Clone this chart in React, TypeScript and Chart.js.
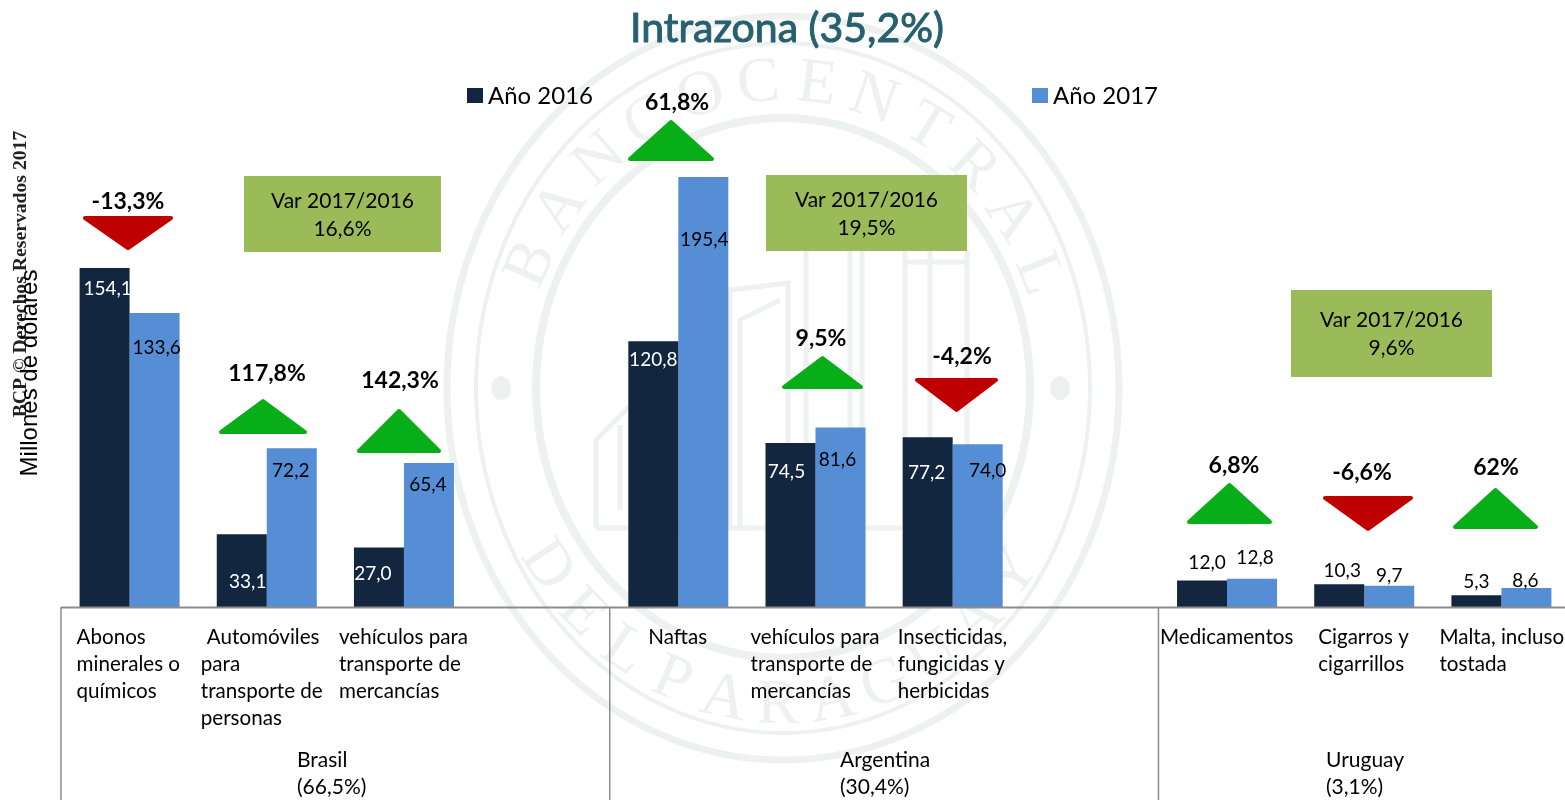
import React, { useEffect, useRef } from "react";
import { Chart, registerables } from "chart.js";

Chart.register(...registerables);

const categories = ["Abonos minerales o químicos", "Automóviles para transporte de personas", "vehículos para transporte de mercancías", "", "Naftas", "vehículos para transporte de mercancías", "Insecticidas, fungicidas y herbicidas", "", "Medicamentos", "Cigarros y cigarrillos", "Malta, incluso tostada"];
const categoryLines = [["Abonos", "minerales o", "químicos"], [" Automóviles", "para", "transporte de", "personas"], ["vehículos para", "transporte de", "mercancías"], [], ["Naftas"], ["vehículos para", "transporte de", "mercancías"], ["Insecticidas,", "fungicidas y", "herbicidas"], [], ["Medicamentos"], ["Cigarros y", "cigarrillos"], ["Malta, incluso", "tostada"]];
const values2016 = [154.1, 33.1, 27.0, null, 120.8, 74.5, 77.2, null, 12.0, 10.3, 5.3];
const values2017 = [133.6, 72.2, 65.4, null, 195.4, 81.6, 74.0, null, 12.8, 9.7, 8.6];
const variation = ["-13,3%", "117,8%", "142,3%", "", "61,8%", "9,5%", "-4,2%", "", "6,8%", "-6,6%", "62%"];
const groupLabels = [["Brasil", "(66,5%)"], ["Argentina", "(30,4%)"], ["Uruguay", "(3,1%)"]];
const groupVariation = ["16,6%", "19,5%", "9,6%"];

const FONT = "Lato, 'Noto Sans', sans-serif";
const NAVY = "#12263f";
const BLUE = "#558ed5";
const MARK = "#edf1f0";

// presentation tables, by category index
const labelOffset2016 = [[3, 21], [6, 48], [-6, 26], null, [0, 19], [-4, 29], [-1, 36], null, [5, -18], [3, -13], [0, -13]];
const labelOffset2017 = [[2, 35], [-1, 23], [-1, 22], null, [1, 63], [-3, 32], [10, 27], null, [3, -21], [0, -10], [-1, -7]];
const labelInside2016 = [true, true, true, false, true, true, true, false, false, false, false];
const arrows = [
  { l: 83, r: 173, top: 216, bot: 250, up: false, tx: 128, ty: 202 }, { l: 219, r: 307, top: 399, bot: 434, up: true, tx: 267, ty: 374 },
  { l: 357, r: 441, top: 409, bot: 453, up: true, tx: 400, ty: 381 }, null,
  { l: 628, r: 714, top: 120, bot: 161, up: true, tx: 677, ty: 103 }, { l: 782, r: 863, top: 356, bot: 389, up: true, tx: 821, ty: 339 },
  { l: 915, r: 998, top: 378, bot: 412, up: false, tx: 962, ty: 357 }, null,
  { l: 1187, r: 1272, top: 483, bot: 524, up: true, tx: 1234, ty: 466 }, { l: 1323, r: 1413, top: 496, bot: 531, up: false, tx: 1362, ty: 473 },
  { l: 1453, r: 1538, top: 488, bot: 529, up: true, tx: 1496, ty: 468 },
];
const labelLeft = [-53, -66, -65, 0, -30, -65, -55, 0, -67, -46, -62];
const boxes = [[244, 176, 197, 76], [766, 175, 201, 76], [1291, 290, 201, 87]];
const groupLeft = [297, 840, 1326];

function ringText(ctx: CanvasRenderingContext2D, txt: string, cx: number, cy: number, rx: number, ry: number, a0: number, a1: number, flip: boolean) {
  const n = txt.length;
  for (let i = 0; i < n; i++) {
    const a = a0 + ((a1 - a0) * i) / (n - 1);
    const x = cx + rx * Math.cos(a);
    const y = cy + ry * Math.sin(a);
    ctx.save();
    ctx.translate(x, y);
    ctx.rotate(flip ? a - Math.PI / 2 : a + Math.PI / 2);
    ctx.fillText(txt[i], 0, 0);
    ctx.restore();
  }
}

function line(ctx: CanvasRenderingContext2D, pts: number[][]) {
  ctx.beginPath();
  pts.forEach((p, i) => (i ? ctx.lineTo(p[0], p[1]) : ctx.moveTo(p[0], p[1])));
  ctx.stroke();
}

const watermark = {
  id: "watermark",
  beforeDatasetsDraw(chart: any) {
    const ctx: CanvasRenderingContext2D = chart.ctx;
    const cx = 783, cy = 388;
    ctx.save();
    ctx.strokeStyle = MARK;
    ctx.fillStyle = MARK;
    [[336, 372, 7], [307, 345, 4], [247, 270, 8]].forEach(([rx, ry, w]) => {
      ctx.lineWidth = w;
      ctx.beginPath();
      ctx.ellipse(cx, cy, rx, ry, 0, 0, Math.PI * 2);
      ctx.stroke();
    });
    [501, 1060].forEach((x) => {
      ctx.beginPath();
      ctx.ellipse(x, cy, 10, 12, 0, 0, Math.PI * 2);
      ctx.fill();
    });
    ctx.textAlign = "center";
    ctx.textBaseline = "alphabetic";
    ctx.font = "64px 'Liberation Serif', serif";
    ringText(ctx, "BANCOCENTRAL", cx, cy, 258, 288, Math.PI * 1.133, Math.PI * 1.878, false);
    ringText(ctx, "DELPARAGUAY", cx, cy, 302, 335, Math.PI * 0.811, Math.PI * 0.2, true);
    ctx.lineWidth = 5;
    line(ctx, [[596, 528], [596, 440], [636, 400], [636, 528]]);
    line(ctx, [[620, 510], [620, 425]]);
    line(ctx, [[596, 528], [985, 528]]);
    line(ctx, [[730, 528], [730, 290], [788, 283], [788, 528]]);
    line(ctx, [[740, 528], [740, 320], [780, 300]]);
    [806, 850, 862, 905, 930, 967].forEach((x) => line(ctx, [[x, 250], [x, 528]]));
    line(ctx, [[905, 262], [967, 262]]);
    ctx.restore();
  },
};

function triangle(ctx: CanvasRenderingContext2D, a: any, color: string) {
  const mid = (a.l + a.r) / 2;
  const tipY = a.up ? a.top : a.bot;
  const baseY = a.up ? a.bot : a.top;
  const inset = 2;
  ctx.fillStyle = color;
  ctx.strokeStyle = color;
  ctx.lineWidth = inset * 2;
  ctx.lineJoin = "round";
  const dir = a.up ? 1 : -1;
  ctx.beginPath();
  ctx.moveTo(mid, tipY + dir * inset);
  ctx.lineTo(a.r - inset, baseY - dir * inset);
  ctx.lineTo(a.l + inset, baseY - dir * inset);
  ctx.closePath();
  ctx.fill();
  ctx.stroke();
}

const overlay = {
  id: "overlay",
  afterDatasetsDraw(chart: any) {
    const ctx: CanvasRenderingContext2D = chart.ctx;
    const xs = chart.scales.x;
    const ys = chart.scales.y;
    const step = xs.getPixelForValue(1) - xs.getPixelForValue(0);
    const base = ys.getPixelForValue(0);
    const halfBar = (step * 0.729) / 4;
    ctx.save();

    // axis and group separators
    ctx.strokeStyle = "#8c8c8c";
    ctx.lineWidth = 2;
    line(ctx, [[xs.left, base + 0.5], [xs.right, base + 0.5]]);
    ctx.lineWidth = 1.5;
    [0, 4, 8].forEach((i) => {
      const x = xs.getPixelForValue(i) - step / 2;
      line(ctx, [[x, base], [x, 800]]);
    });

    // value labels
    ctx.font = `19px ${FONT}`;
    ctx.textAlign = "center";
    ctx.textBaseline = "middle";
    categories.forEach((_, i) => {
      const center = xs.getPixelForValue(i);
      const v16 = values2016[i], v17 = values2017[i];
      if (v16 !== null) {
        const o = labelOffset2016[i]!;
        ctx.fillStyle = labelInside2016[i] ? "#ffffff" : "#000000";
        ctx.fillText(v16.toFixed(1).replace(".", ","), center - halfBar + o[0], ys.getPixelForValue(v16) + o[1]);
      }
      if (v17 !== null) {
        const o = labelOffset2017[i]!;
        ctx.fillStyle = "#000000";
        ctx.fillText(v17.toFixed(1).replace(".", ","), center + halfBar + o[0], ys.getPixelForValue(v17) + o[1]);
      }
    });

    // arrows and variation
    arrows.forEach((a, i) => {
      if (!a) return;
      triangle(ctx, a, a.up ? "#08ae17" : "#bf0000");
      ctx.font = `bold 23px ${FONT}`;
      ctx.fillStyle = "#000000";
      ctx.textAlign = "center";
      ctx.fillText(variation[i], a.tx, a.ty);
    });

    // group boxes
    boxes.forEach((b, i) => {
      ctx.fillStyle = "#9bbb59";
      ctx.fillRect(b[0], b[1], b[2], b[3]);
      ctx.fillStyle = "#000000";
      ctx.font = `21px ${FONT}`;
      ctx.textAlign = "center";
      const mx = b[0] + b[2] / 2, my = b[1] + b[3] / 2;
      ctx.fillText("Var 2017/2016", mx, my - 13);
      ctx.fillText(groupVariation[i], mx, my + 15);
    });

    // category labels
    ctx.fillStyle = "#000000";
    ctx.font = `20.6px ${FONT}`;
    ctx.textAlign = "left";
    categoryLines.forEach((lines, i) => {
      const x = xs.getPixelForValue(i) + labelLeft[i];
      lines.forEach((t, j) => {
        const offset = t.startsWith(" ") ? 6 : 0;
        ctx.fillText(t.trim(), x + offset, 637 + j * 27);
      });
    });
    ctx.font = `21px ${FONT}`;
    groupLabels.forEach((g, i) => {
      g.forEach((t, j) => ctx.fillText(t, groupLeft[i], 760 + j * 27));
    });

    // legend
    ctx.font = `24px ${FONT}`;
    chart.data.datasets.forEach((d: any, i: number) => {
      const x = [467, 1032][i];
      ctx.fillStyle = d.backgroundColor;
      ctx.fillRect(x, 88, 16, 15);
      ctx.fillStyle = "#000000";
      ctx.fillText(d.label, x + 21, 96);
    });

    // title
    ctx.textAlign = "center";
    ctx.font = `41px ${FONT}`;
    ctx.fillStyle = "#27606f";
    ctx.strokeStyle = "#27606f";
    ctx.lineWidth = 1;
    ctx.fillText("Intrazona (35,2%)", 787, 29);
    ctx.strokeText("Intrazona (35,2%)", 787, 29);

    // side texts
    ctx.save();
    ctx.translate(21, 274);
    ctx.rotate(-Math.PI / 2);
    ctx.fillStyle = "#222222";
    ctx.font = "bold 19.7px 'Liberation Serif', serif";
    ctx.fillText("BCP © Derechos Reservados 2017", 0, 0);
    ctx.restore();
    ctx.save();
    ctx.translate(30, 373);
    ctx.rotate(-Math.PI / 2);
    ctx.fillStyle = "#000000";
    ctx.font = "24px 'Liberation Sans', sans-serif";
    ctx.fillText("Millones de dólares", 0, 0);
    ctx.restore();
    ctx.restore();
  },
};

export default function App() {
  const ref = useRef<HTMLCanvasElement>(null);
  useEffect(() => {
    if (!ref.current) return;
    const chart = new Chart(ref.current, {
      type: "bar",
      data: {
        labels: categories,
        datasets: [
          { label: "Año 2016", data: values2016, backgroundColor: NAVY, categoryPercentage: 0.729, barPercentage: 1 },
          { label: "Año 2017", data: values2017, backgroundColor: BLUE, categoryPercentage: 0.729, barPercentage: 1 },
        ],
      },
      options: {
        animation: false,
        responsive: false,
        layout: { padding: { left: 61, right: 0, top: 0, bottom: 193 } },
        plugins: { legend: { display: false }, title: { display: false }, tooltip: { enabled: false } },
        scales: {
          x: { display: false, grid: { display: false } },
          y: { display: false, min: 0, max: 275.9, grid: { display: false } },
        },
      },
      plugins: [watermark, overlay],
    });
    return () => chart.destroy();
  }, []);
  return (
    <div style={{ position: "fixed", left: 0, top: 0, width: 1565, height: 800, overflow: "hidden", background: "#fff" }}>
      <canvas ref={ref} width={1570} height={800} style={{ display: "block" }} />
    </div>
  );
}
